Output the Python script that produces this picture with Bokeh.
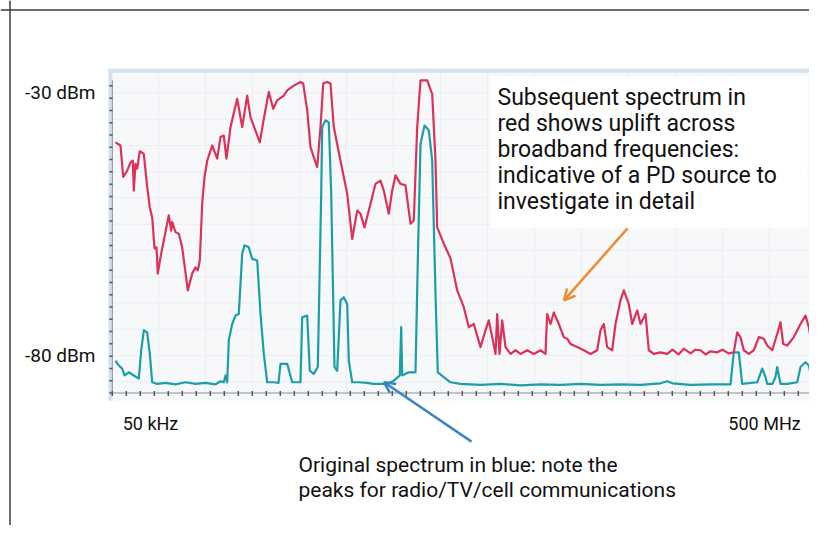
import numpy as np
from bokeh.plotting import figure
from bokeh.models import Range1d, Span, Arrow, OpenHead
from bokeh.core.properties import value
from bokeh.embed import file_html
from bokeh.resources import INLINE

# ---- data: frequency bin (log scale, 50 kHz .. 500 MHz) vs level in dBm ----
red_bin = [5, 10, 12.7, 16.7, 20, 22.3, 23.3, 25, 26.7, 29.3, 33.3, 36.7, 39.3, 41.7, 44, 46, 47.3, 50,
           53.3, 58.3, 60.7, 61.7, 65, 68.3, 71.7, 77.3, 81.7, 85, 87.3, 89.3, 91.7, 94, 96.7, 101.7,
           106.7, 110, 113.3, 116, 120, 126.7, 131.7, 136.7, 140, 149.3, 153.3, 158.3, 162.7, 166.7,
           173.3, 176.7, 183.3, 190, 192.7, 196.7, 200, 203.3, 206.7, 210, 212.7, 216.7, 220, 223.3,
           230, 236.7, 241.7, 246.7, 250, 254, 260, 265, 270, 273.3, 278.3, 281.7, 285, 290, 295, 300,
           303.3, 306.7, 310, 316.7, 321.7, 325, 326.7, 333.3, 340, 346.7, 353.3, 358.3, 363.3, 370,
           375, 378.3, 381.7, 385, 386.7, 389, 391.7, 395, 400, 405, 410, 416.7, 423.3, 430, 435,
           436.7, 440, 443.3, 448.3, 453.3, 456.7, 460, 466.7, 473.3, 480, 486.7, 490, 493.3, 496.7,
           501.7, 505, 510, 513.3, 518.3, 521.7, 526.7, 530, 535, 538.3, 543.3, 550, 556.7, 562, 568,
           573.3, 580, 585, 590, 595, 600, 606.7, 612, 618, 623.3, 626.7, 630, 633.3, 638.3, 643.3,
           648.3, 653.3, 656.7, 661.7, 666.7, 670, 672.7, 676.7, 683.3, 690, 695, 698.3, 701.7, 705,
           708.3, 711.7]
red_dbm = [-39.4, -40.0, -46.0, -44.8, -43.2, -42.9, -48.6, -43.5, -44.4, -41.1, -41.6, -47.9, -51.8,
           -53.7, -59.6, -59.4, -64.4, -61.3, -58.1, -53.3, -56.2, -54.6, -56.5, -56.8, -59.4, -67.6,
           -64.4, -63.2, -63.8, -61.9, -51.1, -46.0, -42.9, -40.0, -42.5, -38.4, -38.1, -42.5, -36.5,
           -31.1, -36.5, -30.5, -34.6, -39.4, -34.9, -29.8, -33.0, -31.4, -30.5, -29.5, -28.6, -27.9,
           -28.2, -33.3, -40.3, -42.2, -44.1, -36.5, -28.2, -27.9, -28.2, -36.5, -42.9, -49.2, -57.8,
           -52.4, -53.0, -55.6, -51.1, -47.3, -46.7, -48.6, -53.0, -48.6, -45.7, -47.3, -47.6, -54.9,
           -54.3, -36.5, -27.6, -27.6, -30.2, -42.9, -55.6, -58.7, -61.5, -67.6, -70.8, -74.6, -74.0,
           -78.4, -75.2, -73.3, -76.5, -79.7, -72.1, -79.7, -73.3, -78.4, -79.7, -79.0, -79.7, -79.0,
           -79.7, -79.0, -79.7, -72.1, -74.0, -71.8, -74.0, -76.5, -76.8, -77.8, -78.4, -79.0, -79.7,
           -79.0, -75.2, -74.0, -78.4, -79.0, -74.0, -69.5, -67.6, -70.2, -74.0, -71.4, -74.0, -72.1,
           -79.0, -79.7, -79.4, -79.7, -78.9, -79.8, -78.7, -79.6, -78.9, -79.0, -79.8, -79.2, -79.4,
           -78.9, -79.6, -79.4, -75.6, -76.5, -79.0, -79.7, -79.0, -76.5, -76.8, -78.1, -79.0, -75.9,
           -73.7, -77.8, -78.1, -76.5, -74.0, -72.4, -74.6, -78.4, -79.0, -74.9, -79.0]

blue_bin = [5, 8.3, 11.7, 14, 18.3, 23.3, 28.3, 30.7, 33.3, 36.7, 39.3, 41.7, 46.7, 55, 65, 75, 85, 95,
            105, 110, 113.3, 115, 116.7, 118.3, 121.7, 125, 128.3, 131.7, 134, 138.3, 141.7, 146.7,
            150, 153.3, 156.7, 163.3, 168, 170, 176.7, 181.7, 190, 191.7, 196.7, 199.3, 203.3, 207.3,
            210.7, 211.7, 215, 218.3, 220.7, 224, 226.7, 230, 233.3, 236.7, 238.3, 241.7, 248.3, 256.7,
            263, 270, 276.7, 283.3, 289.3, 290.7, 291.7, 298.3, 305, 307.3, 310, 314, 318.3, 321.7, 325,
            327.3, 333.3, 340, 350, 370, 390, 410, 430, 450, 470, 490, 510, 530, 550, 556.7, 562, 580,
            600, 620, 623.3, 628.3, 631.7, 646.7, 651.7, 655, 656.7, 662, 665, 666.7, 670, 676.7,
            686.7, 690, 695, 698.3, 701.7, 706.7, 709.3, 710.7]
blue_dbm = [-81.0, -81.9, -82.5, -83.8, -83.2, -83.8, -84.4, -79.0, -75.2, -75.6, -79.7, -85.1, -85.4,
            -85.2, -85.5, -85.1, -85.4, -85.2, -85.5, -84.9, -85.1, -83.8, -85.1, -77.1, -74.0, -72.4,
            -72.1, -60.6, -59.0, -59.4, -61.6, -61.9, -72.1, -79.7, -85.1, -85.1, -85.2, -81.6, -81.6,
            -85.1, -85.1, -72.7, -72.4, -82.9, -83.5, -82.2, -49.2, -36.5, -35.2, -35.6, -49.2, -82.2,
            -82.9, -69.5, -68.9, -70.2, -81.0, -85.1, -85.1, -85.2, -85.4, -85.4, -85.4, -84.8, -83.8,
            -74.6, -83.8, -83.2, -83.2, -61.9, -39.7, -36.2, -37.1, -42.9, -68.2, -83.2, -84.1, -85.1,
            -85.4, -85.6, -85.4, -85.7, -85.5, -85.6, -85.4, -85.6, -85.5, -85.6, -85.3, -84.9, -85.3,
            -85.6, -85.5, -85.5, -79.4, -79.4, -85.4, -85.1, -82.5, -84.1, -85.4, -85.4, -84.1, -82.2,
            -85.4, -85.4, -85.1, -82.2, -81.3, -81.9, -84.8, -85.1, -80.3, -85.4]

y_tick_values = [-30, -80]
y_tick_labels = ["-30 dBm", "-80 dBm"]
x_tick_bins = [40, 654]
x_tick_labels = ["50 kHz", "500 MHz"]

red_note = ["Subsequent spectrum in",
            "red shows uplift across",
            "broadband frequencies:",
            "indicative of a PD source to",
            "investigate in detail"]
blue_note = ["Original spectrum in blue: note the",
             "peaks for radio/TV/cell communications"]

RED = "#dc3158"
TEAL = "#1c9ea9"
ORANGE = "#f08a32"
BLUE_ARROW = "#3b84c4"
FONT = value("Roboto")

p = figure(width=809, height=525,
           x_range=Range1d(-110, 699), y_range=Range1d(-112.381, -12.381),
           x_axis_type=None, y_axis_type=None,
           output_backend="svg", toolbar_location=None, min_border=0)
p.outline_line_color = None
p.background_fill_color = "white"
p.border_fill_color = "white"

# outer frame (left and top)
p.add_layout(Span(location=-100.5, dimension="height", line_color="#3a3a3a", line_width=1.5))
p.add_layout(Span(location=-14.19, dimension="width", line_color="#3a3a3a", line_width=1.5))

# analyser panel
p.quad(left=-2, right=712, top=-25.4, bottom=-88.6, fill_color="#f7f8fa", line_color=None)
hgrid = np.arange(-85, -27, 5)
p.segment(x0=[2] * len(hgrid), y0=hgrid, x1=[712] * len(hgrid), y1=hgrid,
          line_color="#eceef1", line_width=1)
vgrid = np.arange(48, 707, 47)
p.segment(x0=vgrid, y0=[-87] * len(vgrid), x1=vgrid, y1=[-26] * len(vgrid),
          line_color="#eceef1", line_width=1)
p.segment(x0=[-2], y0=[-25.75], x1=[712], y1=[-25.75], line_color="#d5e2ee", line_width=4)
p.segment(x0=[0], y0=[-25.4], x1=[0], y1=[-88.6], line_color="#d5e2ee", line_width=4)

# panel axes (ruler ticks)
p.segment(x0=[1.8], y0=[-87.14], x1=[1.8], y1=[-27.6], line_color="#8a8f96", line_width=1)
lt = np.arange(-87.14, -27.5, 2.34)
p.segment(x0=[-1.2] * len(lt), y0=lt, x1=[2.0] * len(lt), y1=lt, line_color="#555a60", line_width=1.5)
p.segment(x0=[1.8], y0=[-87.14], x1=[707], y1=[-87.14], line_color="#8a8f96", line_width=1)
bt = np.arange(1.8, 707, 14)
p.segment(x0=bt, y0=[-86.75] * len(bt), x1=bt, y1=[-87.7] * len(bt), line_color="#555a60", line_width=1.5)

# spectra
p.line(blue_bin, blue_dbm, line_color=TEAL, line_width=2.2, line_join="round")
p.line(red_bin, red_dbm, line_color=RED, line_width=2.2, line_join="round")

# axis labels
p.text(x=[-15] * 2, y=y_tick_values, text=y_tick_labels, text_font=FONT, text_font_size="19px",
       text_align="right", text_baseline="middle", text_color="#111111")
p.text(x=x_tick_bins, y=[-92.95] * 2, text=x_tick_labels, text_font=FONT, text_font_size="18px",
       text_align="center", text_baseline="middle", text_color="#111111")

# red annotation
p.quad(left=380, right=697, top=-26.86, bottom=-55.62, fill_color="white", line_color=None)
red_y = [-30.8 - 4.95 * i for i in range(len(red_note))]
p.text(x=[387] * len(red_note), y=red_y, text=red_note, text_font=FONT, text_font_size="23px",
       text_align="left", text_baseline="alphabetic", text_color="#111111")
p.add_layout(Arrow(end=OpenHead(size=11, line_color=ORANGE, line_width=2.5),
                   x_start=517, y_start=-55.8, x_end=453.5, y_end=-69.5,
                   line_color=ORANGE, line_width=2.5))

# blue annotation
blue_y = [-100.85, -105.6]
p.text(x=[188] * 2, y=blue_y, text=blue_note, text_font=FONT, text_font_size="21px",
       text_align="left", text_baseline="alphabetic", text_color="#111111")
p.add_layout(Arrow(end=OpenHead(size=11, line_color=BLUE_ARROW, line_width=2.5),
                   x_start=361, y_start=-96.4, x_end=273.5, y_end=-85.1,
                   line_color=BLUE_ARROW, line_width=2.5))

open("out.html", "w").write(file_html(p, INLINE))
